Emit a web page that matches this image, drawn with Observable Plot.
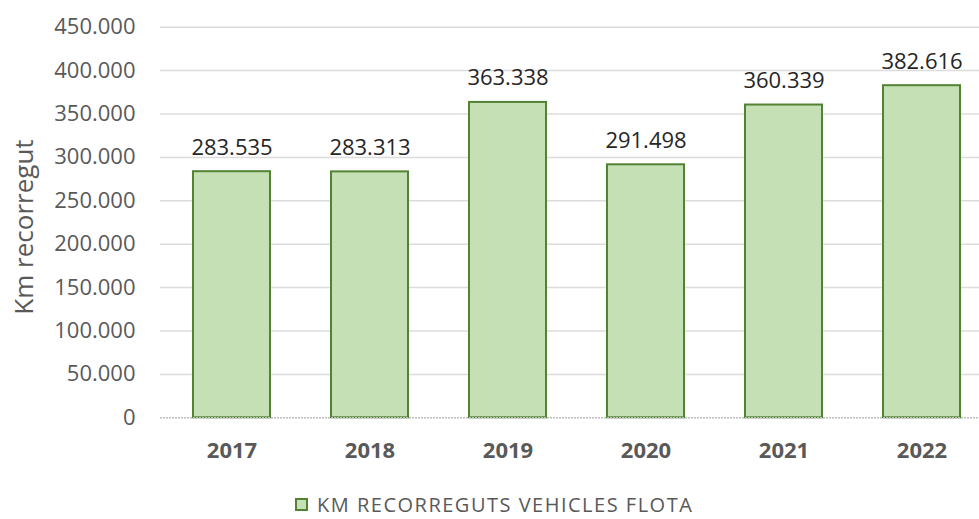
<!DOCTYPE html>
<html>
<head>
<meta charset="utf-8">
<script src="https://cdn.jsdelivr.net/npm/d3@7"></script>
<script src="https://cdn.jsdelivr.net/npm/@observablehq/plot@0.6"></script>
<style>
  html, body { margin: 0; background: #fff; font-family: "Open Sans", sans-serif; }
  #chart svg { display: block; }
  .legend { display: flex; align-items: center; justify-content: flex-start; height: 27px; padding-top: 11px; padding-left: 295px; }
  .legend .sw { width: 9px; height: 9px; background: #c5e0b4; border: 2px solid #548235; margin-right: 9px; }
  .legend .lb { font-family: "Open Sans", sans-serif; font-size: 20px; line-height: 27px; color: #595959; letter-spacing: 1.5px; white-space: nowrap; }
</style>
</head>
<body>
<div id="chart"></div>
<div class="legend"><div class="sw"></div><div class="lb" id="legendLabel"></div></div>
<script>
const years = ["2017", "2018", "2019", "2020", "2021", "2022"];
const km = [283535, 283313, 363338, 291498, 360339, 382616];
const yTicks = [0, 50000, 100000, 150000, 200000, 250000, 300000, 350000, 400000, 450000];
const seriesName = "KM RECORREGUTS VEHICLES FLOTA";
const yTitle = "Km recorregut";

const data = years.map((y, i) => ({year: y, value: km[i]}));
const loc = d3.formatLocale({decimal: ",", thousands: ".", grouping: [3], currency: ["", "€"]});
const fmt = loc.format(",d");

document.getElementById("legendLabel").textContent = seriesName;

const W = 979, H = 480;
const chart = Plot.plot({
  width: W,
  height: H,
  marginTop: 26.7,
  marginBottom: 62.7,
  marginLeft: 160,
  marginRight: 0,
  style: {fontFamily: "Open Sans, sans-serif", background: "#fff", overflow: "visible"},
  x: {domain: years, range: [160, 993], paddingInner: 0.445, paddingOuter: 0.2225, label: null},
  y: {domain: [0, 450000], ticks: yTicks, label: null},
  marks: [
    Plot.ruleY(yTicks.filter(d => d > 0), {stroke: "#dcdcdc", strokeWidth: 1.5}),
    Plot.barY(data, {x: "year", y: "value", fill: "#c5e0b4", stroke: "#548235", strokeWidth: 2, inset: 0}),
    Plot.ruleY([0], {stroke: "#bfbfbf", strokeWidth: 1.5, strokeDasharray: "2,1"}),
    Plot.text(data, {x: "year", y: "value", text: d => fmt(d.value), lineAnchor: "bottom", dy: -17,
      fontSize: 22, fill: "#262626", letterSpacing: "0.8px"}),
    Plot.axisY({ticks: yTicks, tickSize: 0, tickPadding: 25, tickFormat: fmt, fontSize: 22,
      fill: "#595959", letterSpacing: "0.8px", label: null}),
    Plot.axisX({tickSize: 0, tickPadding: 25, fontSize: 22, fontWeight: "bold", fill: "#595959",
      letterSpacing: "1px", label: null}),
    Plot.text([yTitle], {frameAnchor: "left", textAnchor: "middle", lineAnchor: "middle", text: d => d, rotate: -90,
      dx: -136, dy: 4.5, fontSize: 26, fill: "#595959"})
  ]
});
document.getElementById("chart").appendChild(chart);
</script>
</body>
</html>
